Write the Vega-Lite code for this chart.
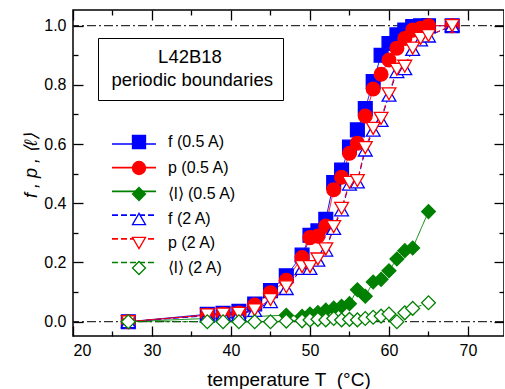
{
  "$schema": "https://vega.github.io/schema/vega-lite/v6.json",
  "width": 431,
  "height": 326,
  "autosize": {"type": "none"},
  "padding": {"left": 73, "top": 10, "right": 0, "bottom": 53},
  "config": {
    "view": {"stroke": "black", "strokeWidth": 1.5},
    "font": "Liberation Sans",
    "axis": {"domain": false, "grid": false, "tickColor": "black", "tickWidth": 1.3, "labelColor": "black", "labelFont": "Liberation Sans", "labelFontSize": 16, "titleFont": "Liberation Sans", "titleFontSize": 18, "titleFontWeight": "normal", "titleColor": "black"},
    "legend": {"labelFont": "Liberation Sans", "titleFont": "Liberation Sans", "labelColor": "black", "titleColor": "black"}
  },
  "datasets": {
    "curves": [
      {"T": 27, "v": 0, "s": "f (0.5 A)"}, {"T": 37, "v": 0.025, "s": "f (0.5 A)"}, {"T": 39, "v": 0.028, "s": "f (0.5 A)"}, {"T": 41, "v": 0.035, "s": "f (0.5 A)"}, {"T": 43, "v": 0.06, "s": "f (0.5 A)"}, {"T": 45, "v": 0.105, "s": "f (0.5 A)"}, {"T": 47, "v": 0.155, "s": "f (0.5 A)"}, {"T": 49, "v": 0.225, "s": "f (0.5 A)"}, {"T": 50, "v": 0.292, "s": "f (0.5 A)"}, {"T": 51, "v": 0.307, "s": "f (0.5 A)"}, {"T": 52, "v": 0.346, "s": "f (0.5 A)"}, {"T": 53, "v": 0.47, "s": "f (0.5 A)"}, {"T": 54, "v": 0.512, "s": "f (0.5 A)"}, {"T": 55, "v": 0.59, "s": "f (0.5 A)"}, {"T": 56, "v": 0.648, "s": "f (0.5 A)"}, {"T": 57, "v": 0.72, "s": "f (0.5 A)"}, {"T": 58, "v": 0.811, "s": "f (0.5 A)"}, {"T": 59, "v": 0.9, "s": "f (0.5 A)"}, {"T": 60, "v": 0.94, "s": "f (0.5 A)"}, {"T": 61, "v": 0.969, "s": "f (0.5 A)"}, {"T": 62, "v": 0.985, "s": "f (0.5 A)"}, {"T": 63, "v": 0.997, "s": "f (0.5 A)"}, {"T": 64, "v": 1.0, "s": "f (0.5 A)"}, {"T": 65, "v": 1.0, "s": "f (0.5 A)"}, {"T": 68, "v": 1.0, "s": "f (0.5 A)"},
      {"T": 27, "v": 0, "s": "p (0.5 A)"}, {"T": 37, "v": 0.022, "s": "p (0.5 A)"}, {"T": 39, "v": 0.025, "s": "p (0.5 A)"}, {"T": 41, "v": 0.029, "s": "p (0.5 A)"}, {"T": 43, "v": 0.056, "s": "p (0.5 A)"}, {"T": 45, "v": 0.098, "s": "p (0.5 A)"}, {"T": 47, "v": 0.14, "s": "p (0.5 A)"}, {"T": 49, "v": 0.217, "s": "p (0.5 A)"}, {"T": 50, "v": 0.284, "s": "p (0.5 A)"}, {"T": 51, "v": 0.289, "s": "p (0.5 A)"}, {"T": 52, "v": 0.323, "s": "p (0.5 A)"}, {"T": 53, "v": 0.446, "s": "p (0.5 A)"}, {"T": 54, "v": 0.488, "s": "p (0.5 A)"}, {"T": 55, "v": 0.569, "s": "p (0.5 A)"}, {"T": 56, "v": 0.603, "s": "p (0.5 A)"}, {"T": 57, "v": 0.695, "s": "p (0.5 A)"}, {"T": 58, "v": 0.786, "s": "p (0.5 A)"}, {"T": 59, "v": 0.836, "s": "p (0.5 A)"}, {"T": 60, "v": 0.884, "s": "p (0.5 A)"}, {"T": 61, "v": 0.924, "s": "p (0.5 A)"}, {"T": 62, "v": 0.957, "s": "p (0.5 A)"}, {"T": 63, "v": 0.985, "s": "p (0.5 A)"}, {"T": 64, "v": 0.991, "s": "p (0.5 A)"}, {"T": 65, "v": 1.0, "s": "p (0.5 A)"}, {"T": 68, "v": 1.0, "s": "p (0.5 A)"},
      {"T": 27, "v": 0, "s": "⟨l⟩ (0.5 A)"}, {"T": 47, "v": 0.022, "s": "⟨l⟩ (0.5 A)"}, {"T": 49, "v": 0.018, "s": "⟨l⟩ (0.5 A)"}, {"T": 50, "v": 0.026, "s": "⟨l⟩ (0.5 A)"}, {"T": 51, "v": 0.031, "s": "⟨l⟩ (0.5 A)"}, {"T": 52, "v": 0.039, "s": "⟨l⟩ (0.5 A)"}, {"T": 53, "v": 0.046, "s": "⟨l⟩ (0.5 A)"}, {"T": 54, "v": 0.052, "s": "⟨l⟩ (0.5 A)"}, {"T": 55, "v": 0.061, "s": "⟨l⟩ (0.5 A)"}, {"T": 56, "v": 0.108, "s": "⟨l⟩ (0.5 A)"}, {"T": 57, "v": 0.086, "s": "⟨l⟩ (0.5 A)"}, {"T": 58, "v": 0.134, "s": "⟨l⟩ (0.5 A)"}, {"T": 59, "v": 0.143, "s": "⟨l⟩ (0.5 A)"}, {"T": 60, "v": 0.172, "s": "⟨l⟩ (0.5 A)"}, {"T": 61, "v": 0.212, "s": "⟨l⟩ (0.5 A)"}, {"T": 62, "v": 0.24, "s": "⟨l⟩ (0.5 A)"}, {"T": 63, "v": 0.249, "s": "⟨l⟩ (0.5 A)"}, {"T": 65, "v": 0.372, "s": "⟨l⟩ (0.5 A)"},
      {"T": 27, "v": 0, "s": "f (2 A)"}, {"T": 37, "v": 0.02, "s": "f (2 A)"}, {"T": 39, "v": 0.022, "s": "f (2 A)"}, {"T": 41, "v": 0.025, "s": "f (2 A)"}, {"T": 43, "v": 0.038, "s": "f (2 A)"}, {"T": 45, "v": 0.068, "s": "f (2 A)"}, {"T": 47, "v": 0.112, "s": "f (2 A)"}, {"T": 49, "v": 0.18, "s": "f (2 A)"}, {"T": 50, "v": 0.18, "s": "f (2 A)"}, {"T": 51, "v": 0.208, "s": "f (2 A)"}, {"T": 52, "v": 0.242, "s": "f (2 A)"}, {"T": 53, "v": 0.315, "s": "f (2 A)"}, {"T": 54, "v": 0.378, "s": "f (2 A)"}, {"T": 55, "v": 0.465, "s": "f (2 A)"}, {"T": 56, "v": 0.472, "s": "f (2 A)"}, {"T": 57, "v": 0.58, "s": "f (2 A)"}, {"T": 58, "v": 0.647, "s": "f (2 A)"}, {"T": 59, "v": 0.68, "s": "f (2 A)"}, {"T": 60, "v": 0.765, "s": "f (2 A)"}, {"T": 61, "v": 0.845, "s": "f (2 A)"}, {"T": 62, "v": 0.855, "s": "f (2 A)"}, {"T": 63, "v": 0.92, "s": "f (2 A)"}, {"T": 64, "v": 0.952, "s": "f (2 A)"}, {"T": 65, "v": 0.965, "s": "f (2 A)"}, {"T": 68, "v": 1.0, "s": "f (2 A)"},
      {"T": 27, "v": 0, "s": "p (2 A)"}, {"T": 37, "v": 0.023, "s": "p (2 A)"}, {"T": 39, "v": 0.026, "s": "p (2 A)"}, {"T": 41, "v": 0.028, "s": "p (2 A)"}, {"T": 43, "v": 0.04, "s": "p (2 A)"}, {"T": 45, "v": 0.075, "s": "p (2 A)"}, {"T": 47, "v": 0.118, "s": "p (2 A)"}, {"T": 49, "v": 0.186, "s": "p (2 A)"}, {"T": 50, "v": 0.186, "s": "p (2 A)"}, {"T": 51, "v": 0.212, "s": "p (2 A)"}, {"T": 52, "v": 0.246, "s": "p (2 A)"}, {"T": 53, "v": 0.321, "s": "p (2 A)"}, {"T": 54, "v": 0.383, "s": "p (2 A)"}, {"T": 55, "v": 0.471, "s": "p (2 A)"}, {"T": 56, "v": 0.477, "s": "p (2 A)"}, {"T": 57, "v": 0.588, "s": "p (2 A)"}, {"T": 58, "v": 0.653, "s": "p (2 A)"}, {"T": 59, "v": 0.687, "s": "p (2 A)"}, {"T": 60, "v": 0.77, "s": "p (2 A)"}, {"T": 61, "v": 0.853, "s": "p (2 A)"}, {"T": 62, "v": 0.863, "s": "p (2 A)"}, {"T": 63, "v": 0.924, "s": "p (2 A)"}, {"T": 64, "v": 0.957, "s": "p (2 A)"}, {"T": 65, "v": 0.967, "s": "p (2 A)"}, {"T": 68, "v": 1.0, "s": "p (2 A)"},
      {"T": 27, "v": 0, "s": "⟨l⟩ (2 A)"}, {"T": 37, "v": 0, "s": "⟨l⟩ (2 A)"}, {"T": 39, "v": 0, "s": "⟨l⟩ (2 A)"}, {"T": 41, "v": 0, "s": "⟨l⟩ (2 A)"}, {"T": 43, "v": 0, "s": "⟨l⟩ (2 A)"}, {"T": 45, "v": 0, "s": "⟨l⟩ (2 A)"}, {"T": 47, "v": 0.002, "s": "⟨l⟩ (2 A)"}, {"T": 49, "v": 0.003, "s": "⟨l⟩ (2 A)"}, {"T": 50, "v": 0.006, "s": "⟨l⟩ (2 A)"}, {"T": 51, "v": 0.008, "s": "⟨l⟩ (2 A)"}, {"T": 52, "v": 0.006, "s": "⟨l⟩ (2 A)"}, {"T": 53, "v": 0.011, "s": "⟨l⟩ (2 A)"}, {"T": 54, "v": 0.006, "s": "⟨l⟩ (2 A)"}, {"T": 55, "v": 0.008, "s": "⟨l⟩ (2 A)"}, {"T": 56, "v": 0.006, "s": "⟨l⟩ (2 A)"}, {"T": 57, "v": 0.011, "s": "⟨l⟩ (2 A)"}, {"T": 58, "v": 0.015, "s": "⟨l⟩ (2 A)"}, {"T": 59, "v": 0.019, "s": "⟨l⟩ (2 A)"}, {"T": 60, "v": 0.026, "s": "⟨l⟩ (2 A)"}, {"T": 61, "v": 0.0, "s": "⟨l⟩ (2 A)"}, {"T": 62, "v": 0.03, "s": "⟨l⟩ (2 A)"}, {"T": 63, "v": 0.045, "s": "⟨l⟩ (2 A)"}, {"T": 65, "v": 0.064, "s": "⟨l⟩ (2 A)"}
    ],
    "refs": [{"ref": 0}, {"ref": 1}],
    "note": [{"note": "periodic boundaries"}]
  },
  "layer": [
    {
      "data": {"name": "refs"},
      "mark": {"type": "rule", "color": "black", "strokeWidth": 1, "strokeDash": [9, 3, 2, 3]},
      "encoding": {
        "y": {"field": "ref", "type": "quantitative", "scale": {"domain": [-0.0483, 1.053]}, "axis": null}
      }
    },
    {
      "data": {"name": "curves"},
      "mark": {"type": "line", "strokeWidth": 1},
      "encoding": {
        "x": {"field": "T", "type": "quantitative", "scale": {"domain": [20, 74.56], "nice": false, "zero": false},
          "axis": {"orient": "bottom", "values": [20, 25, 30, 35, 40, 45, 50, 55, 60, 65, 70], "labelExpr": "datum.value % 10 === 0 ? datum.label : ''", "format": "d",
            "tickSize": {"condition": {"test": "datum.value % 10 === 0", "value": -10}, "value": -5},
            "labelPadding": 16, "title": "temperature T\u00a0 (°C)", "titleFontSize": 19, "titlePadding": 12}},
        "y": {"field": "v", "type": "quantitative", "scale": {"domain": [-0.0483, 1.053], "nice": false, "zero": false},
          "axis": {"orient": "left", "values": [0, 0.1, 0.2, 0.3, 0.4, 0.5, 0.6, 0.7, 0.8, 0.9, 1.0], "labelExpr": "round(datum.value * 10) % 2 === 0 ? format(datum.value, '.1f') : ''",
            "tickSize": {"condition": {"test": "round(datum.value * 10) % 2 === 0", "value": -10}, "value": -5},
            "labelPadding": 17, "title": "f , p , ⟨ℓ⟩", "titleFontStyle": "italic", "titlePadding": 3, "titleY": 155}},
        "color": {"field": "s", "type": "nominal",
          "scale": {"domain": ["⟨l⟩ (2 A)", "p (2 A)", "f (2 A)", "⟨l⟩ (0.5 A)", "p (0.5 A)", "f (0.5 A)"], "range": ["#008000", "#ff0000", "#0000ff", "#008000", "#ff0000", "#0000ff"]},
          "legend": {"orient": "none", "legendX": 49, "legendY": 122, "title": null, "values": ["f (0.5 A)", "p (0.5 A)", "⟨l⟩ (0.5 A)", "f (2 A)", "p (2 A)", "⟨l⟩ (2 A)"], "symbolType": "M-2,0H2", "symbolSize": 484, "symbolStrokeWidth": 1.7, "labelExpr": "''", "labelFontSize": 16, "rowPadding": 3.7, "padding": 0}},
        "strokeDash": {"field": "s", "type": "nominal",
          "scale": {"domain": ["⟨l⟩ (2 A)", "p (2 A)", "f (2 A)", "⟨l⟩ (0.5 A)", "p (0.5 A)", "f (0.5 A)"], "range": [[6, 3], [6, 3], [6, 3], [1, 0], [1, 0], [1, 0]]}}
      }
    },
    {
      "data": {"name": "curves"},
      "mark": {"type": "point", "size": 190, "strokeWidth": 1.3, "opacity": 1},
      "encoding": {
        "x": {"field": "T", "type": "quantitative",
          "axis": {"orient": "top", "values": [20, 25, 30, 35, 40, 45, 50, 55, 60, 65, 70], "labels": false, "title": null,
            "tickSize": {"condition": {"test": "datum.value % 10 === 0", "value": -10}, "value": -5}}},
        "y": {"field": "v", "type": "quantitative",
          "axis": {"orient": "right", "values": [0, 0.1, 0.2, 0.3, 0.4, 0.5, 0.6, 0.7, 0.8, 0.9, 1.0], "labels": false, "title": null,
            "tickSize": {"condition": {"test": "round(datum.value * 10) % 2 === 0", "value": -10}, "value": -5}}},
        "shape": {"field": "s", "type": "nominal",
          "scale": {"domain": ["f (0.5 A)", "p (0.5 A)", "⟨l⟩ (0.5 A)", "f (2 A)", "p (2 A)", "⟨l⟩ (2 A)"], "range": ["square", "circle", "diamond", "triangle-up", "triangle-down", "diamond"]},
          "legend": {"orient": "none", "legendX": 58, "legendY": 124, "title": null, "symbolSize": 170, "symbolStrokeWidth": 1.3, "labelFontSize": 16, "labelOffset": 21, "rowPadding": 6, "padding": 0}},
        "fill": {"field": "s", "type": "nominal",
          "scale": {"domain": ["f (0.5 A)", "p (0.5 A)", "⟨l⟩ (0.5 A)", "f (2 A)", "p (2 A)", "⟨l⟩ (2 A)"], "range": ["#0000ff", "#ff0000", "#008000", "#ffffff", "#ffffff", "#ffffff"]},
          "legend": {"orient": "none", "legendX": 58, "legendY": 124, "title": null, "symbolSize": 170, "symbolStrokeWidth": 1.3, "labelFontSize": 16, "labelOffset": 21, "rowPadding": 6, "padding": 0}},
        "stroke": {"field": "s", "type": "nominal",
          "scale": {"domain": ["f (0.5 A)", "p (0.5 A)", "⟨l⟩ (0.5 A)", "f (2 A)", "p (2 A)", "⟨l⟩ (2 A)"], "range": ["#0000ff", "#ff0000", "#008000", "#0000ff", "#ff0000", "#008000"]},
          "legend": {"orient": "none", "legendX": 58, "legendY": 124, "title": null, "symbolSize": 170, "symbolStrokeWidth": 1.3, "labelFontSize": 16, "labelOffset": 21, "rowPadding": 6, "padding": 0}}
      }
    },
    {
      "data": {"name": "note"},
      "mark": {"type": "point", "opacity": 0},
      "encoding": {
        "size": {"field": "note", "type": "nominal",
          "legend": {"orient": "none", "legendX": 25, "legendY": 28, "title": "L42B18", "titleFontSize": 18.5, "titleFontWeight": "normal", "titleAnchor": "middle", "titlePadding": 4, "labelFontSize": 18.5, "labelLimit": 400, "symbolOpacity": 0, "symbolStrokeWidth": 0, "labelOffset": -15, "padding": 10, "strokeColor": "black", "fillColor": "white"}}
      }
    }
  ],
  "resolve": {
    "axis": {"x": "independent", "y": "independent"}
  }
}
